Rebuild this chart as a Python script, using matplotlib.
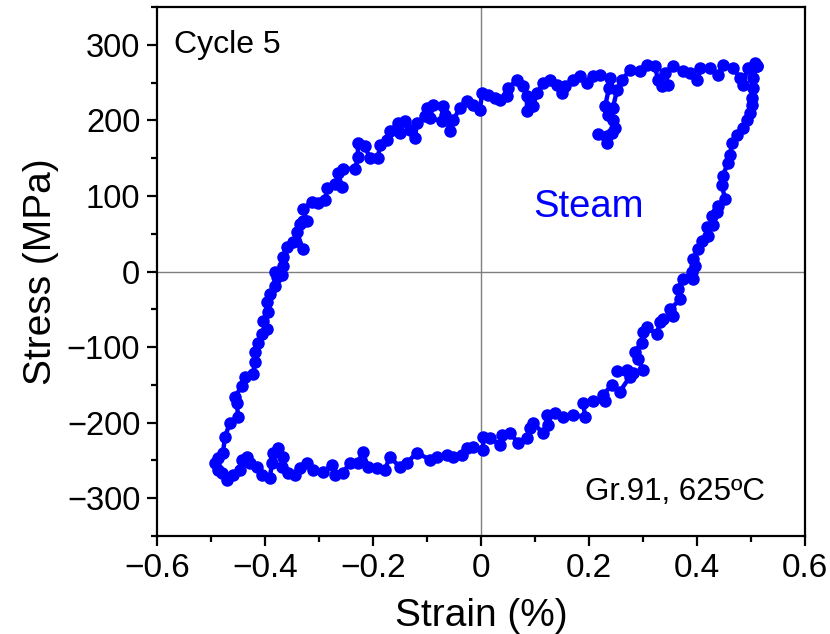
import matplotlib
matplotlib.use("Agg")
import matplotlib.pyplot as plt
from matplotlib.ticker import MultipleLocator, FuncFormatter
from matplotlib import font_manager

plt.rcParams['font.family'] = ['Liberation Sans', 'DejaVu Sans']
names = {f.name for f in font_manager.fontManager.ttflist}
narrow = 'Liberation Sans Narrow' if 'Liberation Sans Narrow' in names else 'Liberation Sans'

# Unloading branch (top right -> right side -> bottom -> bottom left)
strain_down = [0.511, 0.504, 0.504, 0.502, 0.502, 0.498, 0.493, 0.485, 0.474, 0.465,
               0.461, 0.457, 0.448, 0.446, 0.452, 0.439, 0.437, 0.428, 0.430, 0.419,
               0.420, 0.409, 0.402, 0.393, 0.396, 0.391, 0.393, 0.374, 0.365, 0.369,
               0.350, 0.356, 0.337, 0.331, 0.326, 0.307, 0.300, 0.298, 0.285, 0.291,
               0.300, 0.281, 0.270, 0.252, 0.276, 0.257, 0.243, 0.226, 0.230, 0.207,
               0.189, 0.193, 0.170, 0.152, 0.137, 0.122, 0.124, 0.115, 0.096, 0.091,
               0.085, 0.069, 0.054, 0.039, 0.035, 0.017, 0.004, 0.004, -0.015, -0.026,
               -0.035, -0.052, -0.063, -0.081, -0.094, -0.119, -0.137, -0.150, -0.169, -0.178,
               -0.193, -0.209, -0.219, -0.228, -0.243, -0.256, -0.270, -0.276, -0.293, -0.311,
               -0.322, -0.335, -0.344, -0.357, -0.369, -0.367, -0.376, -0.385, -0.387, -0.391,
               -0.406, -0.415, -0.428, -0.433, -0.443, -0.446, -0.459, -0.470, -0.480, -0.487,
               -0.493]
stress_down = [272, 256, 243, 230, 220, 210, 200, 190, 180, 170,
               154, 143, 127, 114, 96, 87, 79, 73, 61, 59,
               47, 41, 30, 17, 7, -1, -10, -10, -23, -37,
               -50, -59, -63, -67, -83, -74, -80, -94, -106, -116,
               -130, -134, -130, -132, -139, -159, -150, -163, -172, -172,
               -174, -192, -190, -192, -187, -190, -203, -214, -200, -207,
               -220, -227, -214, -216, -230, -220, -219, -236, -232, -234,
               -243, -245, -243, -245, -249, -240, -253, -259, -245, -263,
               -260, -259, -239, -253, -253, -267, -269, -256, -265, -263,
               -253, -260, -269, -267, -259, -245, -234, -240, -253, -273,
               -269, -259, -253, -245, -249, -263, -269, -276, -267, -263,
               -253]

# Reloading branch (bottom left -> left side -> top -> top right)
strain_up = [-0.487, -0.478, -0.474, -0.465, -0.450, -0.452, -0.456, -0.443, -0.437, -0.422,
             -0.419, -0.419, -0.413, -0.406, -0.396, -0.404, -0.394, -0.396, -0.391, -0.381,
             -0.378, -0.381, -0.369, -0.367, -0.367, -0.359, -0.348, -0.330, -0.341, -0.335,
             -0.330, -0.322, -0.330, -0.313, -0.302, -0.289, -0.285, -0.270, -0.257, -0.265,
             -0.256, -0.233, -0.228, -0.228, -0.215, -0.206, -0.191, -0.187, -0.174, -0.169,
             -0.154, -0.141, -0.150, -0.131, -0.122, -0.119, -0.104, -0.100, -0.089, -0.094,
             -0.072, -0.070, -0.067, -0.057, -0.052, -0.039, -0.026, -0.015, -0.002, 0.002,
             0.013, 0.026, 0.035, 0.048, 0.050, 0.067, 0.078, 0.085, 0.085, 0.096,
             0.104, 0.115, 0.128, 0.141, 0.150, 0.156, 0.170, 0.183, 0.196, 0.207,
             0.220, 0.239, 0.237, 0.230, 0.235, 0.244, 0.248, 0.233, 0.217, 0.233,
             0.243, 0.244, 0.252, 0.261, 0.276, 0.294, 0.307, 0.322, 0.328, 0.335,
             0.346, 0.341, 0.356, 0.374, 0.387, 0.400, 0.406, 0.424, 0.439, 0.448,
             0.467, 0.480, 0.485, 0.494, 0.507, 0.511]
stress_up = [-247, -240, -219, -200, -192, -174, -166, -152, -139, -136,
             -120, -107, -94, -83, -76, -66, -54, -41, -30, -19,
             -7, -1, -5, 7, 19, 33, 39, 30, 52, 63,
             67, 67, 83, 92, 90, 94, 110, 116, 112, 130,
             136, 136, 152, 170, 166, 150, 150, 167, 174, 186,
             196, 199, 183, 187, 176, 196, 206, 216, 220, 203,
             199, 219, 207, 186, 200, 216, 226, 220, 214, 236,
             234, 230, 227, 232, 243, 253, 245, 232, 212, 219,
             236, 249, 253, 247, 236, 245, 253, 259, 249, 259,
             260, 256, 243, 219, 207, 200, 190, 179, 182, 170,
             183, 216, 240, 253, 267, 265, 273, 272, 253, 245,
             247, 263, 272, 265, 263, 253, 269, 269, 260, 273,
             269, 256, 247, 269, 276, 272]

x_ticks = [-0.6, -0.4, -0.2, 0, 0.2, 0.4, 0.6]
y_ticks = [-300, -200, -100, 0, 100, 200, 300]

fig = plt.figure(figsize=(8.3, 6.34), dpi=100)
ax = fig.add_axes([157/830, 1-536/634, (805-157)/830, (536-7)/634])

ax.axhline(0, color='#7f7f7f', lw=1.0, zorder=1)
ax.axvline(0, color='#7f7f7f', lw=1.0, zorder=1)

blue = '#0000ff'
ax.plot(strain_down + strain_up, stress_down + stress_up, color=blue, lw=3.2,
        marker='o', ms=8, mec=blue, mfc=blue, zorder=3)

ax.set_xlim(-0.6, 0.6)
ax.set_ylim(-350, 350)
ax.set_xticks(x_ticks)
ax.set_yticks(y_ticks)
ax.xaxis.set_minor_locator(MultipleLocator(0.1))
ax.yaxis.set_minor_locator(MultipleLocator(50))

def fmt_x(v, pos):
    s = '%g' % round(v, 2)
    return s.replace('-', '\u2212')

def fmt_y(v, pos):
    return ('%d' % round(v)).replace('-', '\u2212')

ax.xaxis.set_major_formatter(FuncFormatter(fmt_x))
ax.yaxis.set_major_formatter(FuncFormatter(fmt_y))

for s in ax.spines.values():
    s.set_linewidth(1.6)
ax.tick_params(which='major', direction='out', length=7, width=1.6,
               top=False, right=False, pad=5)
ax.tick_params(which='minor', direction='out', length=4, width=1.6, top=False, right=False)
for lab in ax.get_yticklabels():
    lab.set_fontsize(23.5)
for lab in ax.get_xticklabels():
    lab.set_fontsize(24)
    lab.set_family([narrow, 'Liberation Sans'])

ax.set_xlabel('Strain (%)', fontsize=28, labelpad=10)
ax.set_ylabel('Stress (MPa)', fontsize=28, labelpad=6)

ax.text(-0.569, 300, 'Cycle 5', fontsize=23, va='center', ha='left', color='black')
ax.text(0.096, 86, 'Steam', fontsize=27.5, va='center', ha='left', color=blue)
ax.text(0.526, -292, 'Gr.91, 625\u00baC', fontsize=22.5, va='center', ha='right', color='black')

fig.savefig('out.png', dpi=100)
